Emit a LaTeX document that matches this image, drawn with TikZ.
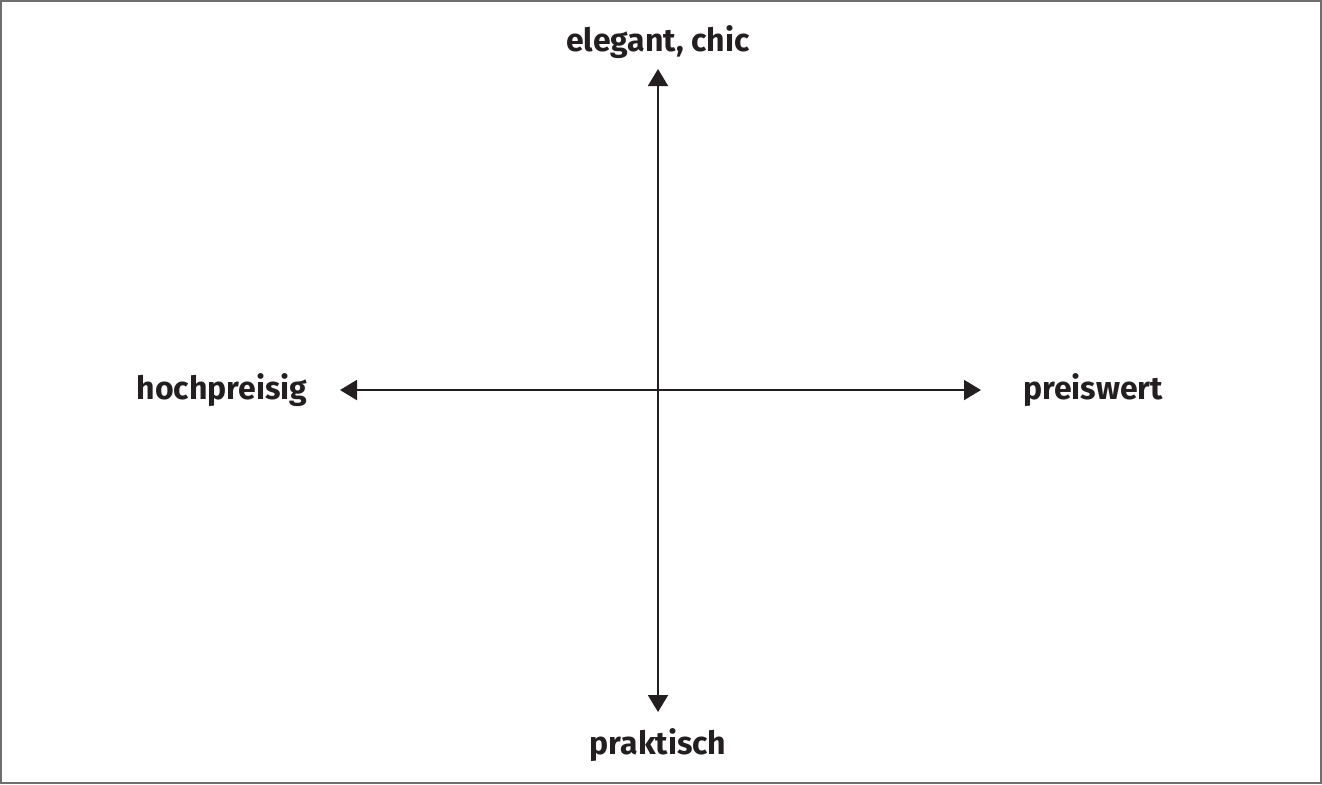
\documentclass[tikz,border=0pt]{standalone}
\usepackage{fontspec}
\setmainfont{Fira Sans}
\usetikzlibrary{arrows.meta}
\definecolor{ink}{HTML}{231F20}
\definecolor{framec}{HTML}{6E6E6E}
\begin{document}
\begin{tikzpicture}[x=0.5pt,y=-0.5pt,
  lbl/.style={font=\fontsize{16}{19}\selectfont\bfseries, text=ink, inner sep=0pt},
  axis/.style={draw=ink, line width=1pt, {Triangle[length=8.5pt,width=10pt]}-{Triangle[length=8.5pt,width=10pt]}}]
\useasboundingbox (0,0) rectangle (1322,784);
\draw[framec, line width=0.8pt] (1,1) rectangle (1321,783);
\coordinate (top) at (658,69);
\coordinate (bot) at (658,712);
\coordinate (lft) at (340,390);
\coordinate (rgt) at (981,390);
\draw[axis] (bot) -- (top);
\draw[axis] (lft) -- (rgt);
\node[lbl] (t) at (658,42) {elegant, chic};
\node[lbl] (b) at (658,745) {praktisch};
\node[lbl] (l) at (222,390) {hochpreisig};
\node[lbl] (r) at (1093,390) {preiswert};
\end{tikzpicture}
\end{document}
